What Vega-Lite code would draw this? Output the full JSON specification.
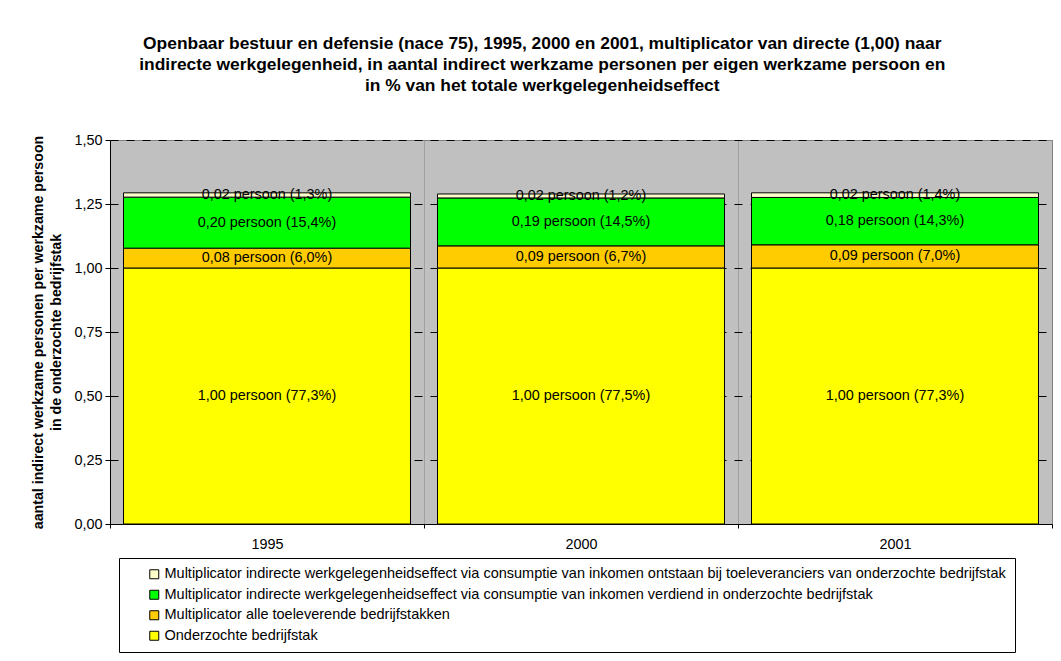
{
  "$schema": "https://vega.github.io/schema/vega-lite/v6.json",
  "autosize": "none",
  "width": 942,
  "height": 384,
  "padding": {"left": 110, "top": 140, "right": 9, "bottom": 137},
  "background": "white",
  "title": {
    "text": [
      "Openbaar bestuur en defensie (nace 75), 1995, 2000 en 2001, multiplicator van directe (1,00) naar",
      "indirecte werkgelegenheid, in aantal indirect werkzame personen per eigen werkzame persoon en",
      "in % van het totale werkgelegenheidseffect"
    ],
    "font": "Liberation Sans",
    "fontSize": 17.4,
    "fontWeight": "bold",
    "color": "black",
    "lineHeight": 21,
    "anchor": "middle",
    "frame": "bounds",
    "offset": 38
  },
  "data": {
    "values": [
      {"jaar": "1995", "reeks": "Onderzochte bedrijfstak", "volgorde": 1, "waarde": 1.0, "label": "1,00 persoon (77,3%)"},
      {"jaar": "1995", "reeks": "Multiplicator alle toeleverende bedrijfstakken", "volgorde": 2, "waarde": 0.0776, "label": "0,08 persoon (6,0%)"},
      {"jaar": "1995", "reeks": "Multiplicator indirecte werkgelegenheidseffect via consumptie van inkomen verdiend in onderzochte bedrijfstak", "volgorde": 3, "waarde": 0.1992, "label": "0,20 persoon (15,4%)"},
      {"jaar": "1995", "reeks": "Multiplicator indirecte werkgelegenheidseffect via consumptie van inkomen ontstaan bij toeleveranciers van onderzochte bedrijfstak", "volgorde": 4, "waarde": 0.0168, "label": "0,02 persoon (1,3%)"},
      {"jaar": "2000", "reeks": "Onderzochte bedrijfstak", "volgorde": 1, "waarde": 1.0, "label": "1,00 persoon (77,5%)"},
      {"jaar": "2000", "reeks": "Multiplicator alle toeleverende bedrijfstakken", "volgorde": 2, "waarde": 0.0865, "label": "0,09 persoon (6,7%)"},
      {"jaar": "2000", "reeks": "Multiplicator indirecte werkgelegenheidseffect via consumptie van inkomen verdiend in onderzochte bedrijfstak", "volgorde": 3, "waarde": 0.1871, "label": "0,19 persoon (14,5%)"},
      {"jaar": "2000", "reeks": "Multiplicator indirecte werkgelegenheidseffect via consumptie van inkomen ontstaan bij toeleveranciers van onderzochte bedrijfstak", "volgorde": 4, "waarde": 0.0155, "label": "0,02 persoon (1,2%)"},
      {"jaar": "2001", "reeks": "Onderzochte bedrijfstak", "volgorde": 1, "waarde": 1.0, "label": "1,00 persoon (77,3%)"},
      {"jaar": "2001", "reeks": "Multiplicator alle toeleverende bedrijfstakken", "volgorde": 2, "waarde": 0.0906, "label": "0,09 persoon (7,0%)"},
      {"jaar": "2001", "reeks": "Multiplicator indirecte werkgelegenheidseffect via consumptie van inkomen verdiend in onderzochte bedrijfstak", "volgorde": 3, "waarde": 0.185, "label": "0,18 persoon (14,3%)"},
      {"jaar": "2001", "reeks": "Multiplicator indirecte werkgelegenheidseffect via consumptie van inkomen ontstaan bij toeleveranciers van onderzochte bedrijfstak", "volgorde": 4, "waarde": 0.0181, "label": "0,02 persoon (1,4%)"}
    ]
  },
  "transform": [
    {"stack": "waarde", "groupby": ["jaar"], "sort": [{"field": "volgorde", "order": "ascending"}], "as": ["y0", "y1"]},
    {"calculate": "(datum.y0 + datum.y1) / 2", "as": "ymid"}
  ],
  "encoding": {
    "x": {
      "field": "jaar",
      "type": "nominal",
      "scale": {"paddingInner": 0, "paddingOuter": 0},
      "axis": {
        "title": null,
        "labelAngle": 0,
        "labelFont": "Liberation Sans",
        "labelFontSize": 14.4,
        "labelColor": "black",
        "labelPadding": 9,
        "domainColor": "black",
        "tickColor": "black",
        "tickSize": 4,
        "tickBand": "extent",
        "grid": true,
        "gridColor": "#808080",
        "gridDash": [1, 1]
      }
    }
  },
  "layer": [
    {
      "mark": {"type": "bar", "width": {"band": 0.914}, "stroke": "black", "strokeWidth": 1},
      "encoding": {
        "y": {
          "field": "y0",
          "type": "quantitative",
          "scale": {"domain": [0, 1.5], "nice": false},
          "axis": {
            "title": ["aantal indirect werkzame personen per werkzame persoon", "in de onderzochte bedrijfstak"],
            "titleFont": "Liberation Sans",
            "titleFontSize": 14.2,
            "titleFontWeight": "bold",
            "titleColor": "black",
            "titleLineHeight": 18,
            "titlePadding": 10,
            "values": [0, 0.25, 0.5, 0.75, 1.0, 1.25, 1.5],
            "labelExpr": "replace(format(datum.value, '.2f'), '.', ',')",
            "labelFont": "Liberation Sans",
            "labelFontSize": 14.4,
            "labelColor": "black",
            "labelPadding": 3,
            "domainColor": "black",
            "tickColor": "black",
            "tickSize": 5,
            "grid": true,
            "gridColor": "#000000",
            "gridOpacity": 1,
            "gridWidth": 1,
            "gridDash": [8, 8]
          }
        },
        "y2": {"field": "y1"},
        "color": {
          "field": "reeks",
          "type": "nominal",
          "scale": {
            "domain": [
              "Multiplicator indirecte werkgelegenheidseffect via consumptie van inkomen ontstaan bij toeleveranciers van onderzochte bedrijfstak",
              "Multiplicator indirecte werkgelegenheidseffect via consumptie van inkomen verdiend in onderzochte bedrijfstak",
              "Multiplicator alle toeleverende bedrijfstakken",
              "Onderzochte bedrijfstak"
            ],
            "range": ["#FFFFCC", "#00FF00", "#FFCC00", "#FFFF00"]
          },
          "legend": {
            "title": null,
            "orient": "none",
            "legendX": 9,
            "legendY": 418,
            "direction": "vertical",
            "strokeColor": "black",
            "fillColor": "white",
            "padding": 9,
            "symbolOffset": 19,
            "symbolType": "square",
            "symbolSize": 81,
            "symbolStrokeColor": "black",
            "symbolStrokeWidth": 1,
            "symbolOpacity": 1,
            "labelFont": "Liberation Sans",
            "labelFontSize": 14.5,
            "labelColor": "black",
            "labelLimit": 0,
            "labelOffset": 3,
            "labelExpr": "datum.label + '\u00a0\u00a0\u00a0\u00a0'",
            "rowPadding": 5.5
          }
        }
      }
    },
    {
      "mark": {"type": "text", "font": "Liberation Sans", "fontSize": 14.4, "color": "black"},
      "encoding": {
        "y": {"field": "ymid", "type": "quantitative"},
        "text": {"field": "label"}
      }
    }
  ],
  "config": {
    "view": {"fill": "#C0C0C0", "stroke": "#808080", "strokeWidth": 1}
  }
}
